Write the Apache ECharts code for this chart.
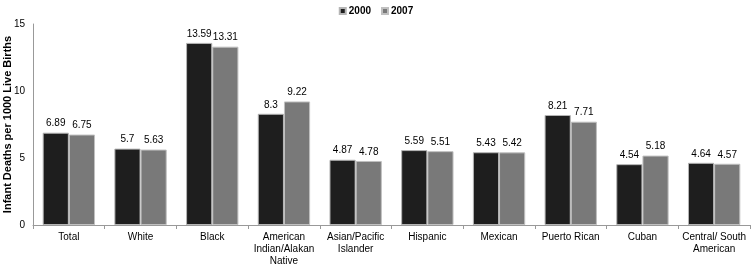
<!DOCTYPE html>
<html>
<head>
<meta charset="utf-8">
<script src="https://cdn.jsdelivr.net/npm/echarts@6/dist/echarts.min.js"></script>
<style>
  html, body { margin: 0; padding: 0; background: #fff; }
  #chart { width: 752px; height: 266px; }
</style>
</head>
<body>
<div id="chart"></div>
<script>
var categories = ['Total', 'White', 'Black', 'American\nIndian/Alakan\nNative', 'Asian/Pacific\nIslander',
    'Hispanic', 'Mexican', 'Puerto Rican', 'Cuban', 'Central/ South\nAmerican'];
var values2000 = [6.89, 5.7, 13.59, 8.3, 4.87, 5.59, 5.43, 8.21, 4.54, 4.64];
var values2007 = [6.75, 5.63, 13.31, 9.22, 4.78, 5.51, 5.42, 7.71, 5.18, 4.57];
var yTicks = [0, 5, 10, 15];

var font = 'Liberation Sans, Arial, sans-serif';

var myChart = echarts.init(document.getElementById('chart'));
var option = {
    animation: false,
    textStyle: { fontFamily: font },
    legend: {
        top: 1,
        left: 'center',
        itemWidth: 6,
        itemHeight: 6,
        itemGap: 10,
        icon: 'rect',
        textStyle: { fontSize: 10, fontWeight: 'bold', color: '#000', fontFamily: font, padding: [0, 0, 0, -2] }
    },
    grid: { left: 33, right: 2, top: 24, bottom: 41, containLabel: false, outerBoundsMode: 'none' },
    xAxis: {
        type: 'category',
        data: categories,
        axisLine: { lineStyle: { color: '#999' } },
        axisTick: { show: true, alignWithLabel: false, length: 4, lineStyle: { color: '#999' } },
        axisLabel: { color: '#000', fontSize: 10, lineHeight: 12, margin: 6, interval: 0 }
    },
    yAxis: {
        type: 'value',
        min: yTicks[0],
        max: yTicks[yTicks.length - 1],
        interval: 5,
        name: 'Infant Deaths per 1000 Live Births',
        nameLocation: 'middle',
        nameGap: 20,
        nameMoveOverlap: false,
        nameTextStyle: { fontWeight: 'bold', fontSize: 11, color: '#000' },
        axisLine: { show: true, lineStyle: { color: '#999' } },
        axisTick: { show: false },
        splitLine: { show: false },
        axisLabel: { color: '#000', fontSize: 10, margin: 8 }
    },
    series: [
        {
            name: '2000',
            type: 'bar',
            data: values2000,
            barGap: '0%',
            barCategoryGap: '27%',
            itemStyle: { color: '#1e1e1e', borderColor: '#b5b5b5', borderWidth: 1 },
            label: { show: true, position: 'top', color: '#000', fontSize: 10, distance: 4 }
        },
        {
            name: '2007',
            type: 'bar',
            data: values2007,
            itemStyle: { color: '#797979', borderColor: '#c0c0c0', borderWidth: 1 },
            label: { show: true, position: 'top', color: '#000', fontSize: 10, distance: 4 }
        }
    ]
};
myChart.setOption(option);
</script>
</body>
</html>
